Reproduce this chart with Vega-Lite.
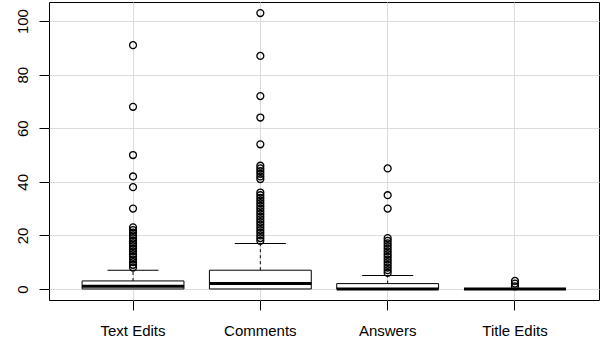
{
  "$schema": "https://vega.github.io/schema/vega-lite/v6.json",
  "width": 550,
  "height": 298,
  "autosize": {"type": "none"},
  "padding": {"left": 49, "top": 2, "right": 1, "bottom": 41},
  "background": "white",
  "config": {
    "font": "Liberation Sans",
    "view": {"stroke": "black", "strokeWidth": 1},
    "axis": {
      "labelFont": "Liberation Sans",
      "labelFontSize": 15,
      "labelColor": "black",
      "tickColor": "black",
      "tickSize": 10,
      "tickWidth": 1,
      "domain": false,
      "grid": true,
      "gridColor": "#dcdcdc",
      "gridWidth": 1,
      "title": null
    }
  },
  "datasets": {
    "stats": [
      {"category": "Text Edits", "q1": 0, "median": 1, "q3": 3, "hi": 7},
      {"category": "Comments", "q1": 0, "median": 2, "q3": 7, "hi": 17},
      {"category": "Answers", "q1": 0, "median": 0, "q3": 2, "hi": 5},
      {"category": "Title Edits", "q1": 0, "median": 0, "q3": 0, "hi": 0}
    ],
    "outliers": [
      {"category": "Text Edits", "value": 91},
      {"category": "Text Edits", "value": 68},
      {"category": "Text Edits", "value": 50},
      {"category": "Text Edits", "value": 42},
      {"category": "Text Edits", "value": 38},
      {"category": "Text Edits", "value": 30},
      {"category": "Text Edits", "value": 23},
      {"category": "Text Edits", "value": 22},
      {"category": "Text Edits", "value": 21},
      {"category": "Text Edits", "value": 20},
      {"category": "Text Edits", "value": 19},
      {"category": "Text Edits", "value": 18},
      {"category": "Text Edits", "value": 17},
      {"category": "Text Edits", "value": 16},
      {"category": "Text Edits", "value": 15},
      {"category": "Text Edits", "value": 14},
      {"category": "Text Edits", "value": 13},
      {"category": "Text Edits", "value": 12},
      {"category": "Text Edits", "value": 11},
      {"category": "Text Edits", "value": 10},
      {"category": "Text Edits", "value": 9},
      {"category": "Text Edits", "value": 8},
      {"category": "Comments", "value": 103},
      {"category": "Comments", "value": 87},
      {"category": "Comments", "value": 72},
      {"category": "Comments", "value": 64},
      {"category": "Comments", "value": 54},
      {"category": "Comments", "value": 46},
      {"category": "Comments", "value": 45},
      {"category": "Comments", "value": 44},
      {"category": "Comments", "value": 43},
      {"category": "Comments", "value": 42},
      {"category": "Comments", "value": 41},
      {"category": "Comments", "value": 36},
      {"category": "Comments", "value": 35},
      {"category": "Comments", "value": 34},
      {"category": "Comments", "value": 33},
      {"category": "Comments", "value": 32},
      {"category": "Comments", "value": 31},
      {"category": "Comments", "value": 30},
      {"category": "Comments", "value": 29},
      {"category": "Comments", "value": 28},
      {"category": "Comments", "value": 27},
      {"category": "Comments", "value": 26},
      {"category": "Comments", "value": 25},
      {"category": "Comments", "value": 24},
      {"category": "Comments", "value": 23},
      {"category": "Comments", "value": 22},
      {"category": "Comments", "value": 21},
      {"category": "Comments", "value": 20},
      {"category": "Comments", "value": 19},
      {"category": "Comments", "value": 18},
      {"category": "Answers", "value": 45},
      {"category": "Answers", "value": 35},
      {"category": "Answers", "value": 30},
      {"category": "Answers", "value": 19},
      {"category": "Answers", "value": 18},
      {"category": "Answers", "value": 17},
      {"category": "Answers", "value": 16},
      {"category": "Answers", "value": 15},
      {"category": "Answers", "value": 14},
      {"category": "Answers", "value": 13},
      {"category": "Answers", "value": 12},
      {"category": "Answers", "value": 11},
      {"category": "Answers", "value": 10},
      {"category": "Answers", "value": 9},
      {"category": "Answers", "value": 8},
      {"category": "Answers", "value": 7},
      {"category": "Answers", "value": 6},
      {"category": "Title Edits", "value": 3},
      {"category": "Title Edits", "value": 2},
      {"category": "Title Edits", "value": 1}
    ]
  },
  "encoding": {
    "x": {
      "field": "category",
      "type": "nominal",
      "sort": ["Text Edits", "Comments", "Answers", "Title Edits"],
      "scale": {"paddingInner": 0, "paddingOuter": 0.16},
      "axis": {"labelAngle": 0, "labelPadding": 13}
    }
  },
  "layer": [
    {
      "data": {"name": "stats"},
      "mark": {"type": "rule", "color": "black", "strokeWidth": 1, "strokeDash": [3, 3]},
      "encoding": {
        "y": {
          "field": "q3",
          "type": "quantitative",
          "scale": {"domain": [-4.12, 107.12], "nice": false, "zero": false},
          "axis": {"values": [0, 20, 40, 60, 80, 100], "labelAngle": -90, "labelPadding": 9}
        },
        "y2": {"field": "hi"}
      }
    },
    {
      "data": {"name": "stats"},
      "mark": {"type": "tick", "color": "black", "size": 51, "thickness": 1, "opacity": 1},
      "encoding": {"y": {"field": "hi", "type": "quantitative"}}
    },
    {
      "data": {"name": "stats"},
      "mark": {"type": "bar", "width": {"band": 0.8}, "fill": "white", "stroke": "black", "strokeWidth": 1},
      "encoding": {
        "y": {"field": "q1", "type": "quantitative"},
        "y2": {"field": "q3"}
      }
    },
    {
      "data": {"name": "stats"},
      "mark": {"type": "tick", "color": "black", "size": 102, "thickness": 3, "opacity": 1},
      "encoding": {"y": {"field": "median", "type": "quantitative"}}
    },
    {
      "data": {"name": "outliers"},
      "mark": {"type": "point", "shape": "circle", "filled": false, "stroke": "black", "strokeWidth": 1.3, "size": 48, "opacity": 1},
      "encoding": {"y": {"field": "value", "type": "quantitative"}}
    }
  ]
}
